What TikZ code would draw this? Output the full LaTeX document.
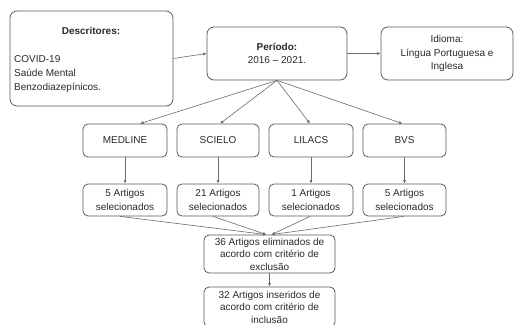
\documentclass[tikz,border=0pt]{standalone}
\usepackage{fontspec}
\setmainfont{Liberation Sans}
\usetikzlibrary{arrows.meta,calc}
\definecolor{boxc}{HTML}{5A5A5A}
\definecolor{linec}{HTML}{6A6A6A}
\definecolor{txtc}{HTML}{2A2A2A}
\begin{document}
\begin{tikzpicture}[x=1pt,y=-1pt,
  box/.style={draw=boxc, line width=0.8pt, rounded corners=7pt, fill=white, text=txtc, align=center, inner sep=0pt, font=\fontsize{10}{13.5}\selectfont},
  sbox/.style={box, rounded corners=5pt},
  lbl/.style={text=txtc, inner sep=0pt, font=\fontsize{10}{14}\selectfont},
  arr/.style={draw=linec, line width=0.6pt, -{Latex[length=3.5pt,width=3pt]}},
]
\useasboundingbox (0,0) rectangle (516,324);
\clip (0,0) rectangle (516,324);
% top row
\node[box, minimum width=163pt, minimum height=95pt] (desc) at (91.5,58.5) {};
\node[lbl, font=\fontsize{10}{14}\selectfont\bfseries] (desct) at (91,31) {Descritores:};
\node[lbl, anchor=west, align=left] (descl) at (14,74) {COVID-19\\Saúde Mental\\Benzodiazepínicos.};
\node[box, minimum width=140pt, minimum height=53pt] (per) at (277,53.5) {\textbf{Período:}\\2016 – 2021.};
\node[box, minimum width=132pt, minimum height=53pt] (idi) at (447,53.5) {Idioma:\\Língua Portuguesa e\\Inglesa};
% databases
\node[sbox, minimum width=84pt, minimum height=33pt] (med) at (125,140.5) {MEDLINE};
\node[sbox, minimum width=82pt, minimum height=33pt] (sci) at (218,140.5) {SCIELO};
\node[sbox, minimum width=84pt, minimum height=33pt] (lil) at (311,140.5) {LILACS};
\node[sbox, minimum width=83pt, minimum height=33pt] (bvs) at (404.5,140.5) {BVS};
% counts
\node[sbox, minimum width=84pt, minimum height=32pt] (c1) at (125,200) {5 Artigos\\selecionados};
\node[sbox, minimum width=82pt, minimum height=32pt] (c2) at (218,200) {21 Artigos\\selecionados};
\node[sbox, minimum width=84pt, minimum height=32pt] (c3) at (311,200) {1 Artigos\\selecionados};
\node[sbox, minimum width=83pt, minimum height=32pt] (c4) at (404.5,200) {5 Artigos\\selecionados};
% bottom
\node[sbox, minimum width=131pt, minimum height=38pt, font=\fontsize{10}{12.5}\selectfont] (exc) at (269.5,254) {36 Artigos eliminados de\\acordo com critério de\\exclusão};
\node[sbox, minimum width=131pt, minimum height=40pt, font=\fontsize{10}{12.5}\selectfont] (inc) at (269.5,307) {32 Artigos inseridos de\\acordo com critério de\\inclusão};
% connectors
\draw[arr] (desc.east) -- (per.west);
\draw[arr] (per.east) -- (idi.west);
\draw[arr] (per.south) -- ($(med.north)+(15,0)$);
\draw[arr] (per.south) -- ($(sci.north)+(2,0)$);
\draw[arr] (per.south) -- ($(lil.north)+(-1,0)$);
\draw[arr] (per.south) -- ($(bvs.north)+(-2,0)$);
\draw[arr] (med.south) -- (c1.north);
\draw[arr] (sci.south) -- (c2.north);
\draw[arr] (lil.south) -- (c3.north);
\draw[arr] (bvs.south) -- (c4.north);
\draw[arr] ($(c1.south)+(-5,0)$) -- ($(exc.north)+(-3,0)$);
\draw[arr] ($(c2.south)+(-5,0)$) -- ($(exc.north)+(-3,0)$);
\draw[arr] ($(c3.south)+(-1,0)$) -- ($(exc.north)+(2,0)$);
\draw[arr] ($(c4.south)+(-1,0)$) -- ($(exc.north)+(2,0)$);
\draw[arr] (exc.south) -- (inc.north);
\end{tikzpicture}
\end{document}
